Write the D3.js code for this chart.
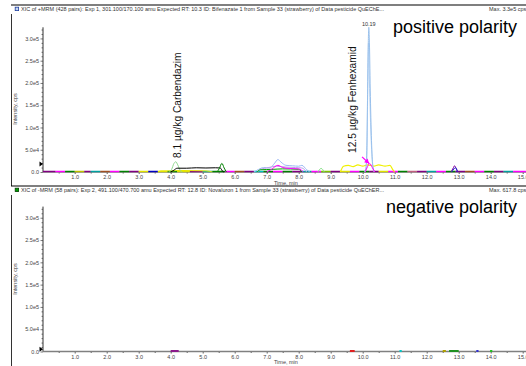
<!DOCTYPE html>
<html><head><meta charset="utf-8">
<script src="https://cdn.jsdelivr.net/npm/d3@7"></script>
<style>
html,body{margin:0;padding:0;background:#fff;}
svg{display:block;font-family:"Liberation Sans",Arial,sans-serif;}
</style></head>
<body><svg id="c" width="526" height="366"></svg>
<script>
// ---------- data ----------
const headerTop = "XIC of +MRM (428 pairs): Exp 1, 301.100/170.100 amu Expected RT: 10.3 ID: Bifenazate 1 from Sample 33 (strawberry) of Data pesticide QuEChE...";
const headerBot = "XIC of -MRM (58 pairs): Exp 2, 491.100/470.700 amu Expected RT: 12.8 ID: Novaluron 1 from Sample 33 (strawberry) of Data pesticide QuEChER...";
const maxTop = "Max. 3.3e5 cps";
const maxBot = "Max. 617.8 cps";
const panelLabels = ["positive polarity", "negative polarity"];
const xTicks = [1,2,3,4,5,6,7,8,9,10,11,12,13,14,15];
const xTickLabels = ["1.0","2.0","3.0","4.0","5.0","6.0","7.0","8.0","9.0","10.0","11.0","12.0","13.0","14.0","15.0"];
const xMinor = [0.5,1.5,2.5,3.5,4.5,5.5,6.5,7.5,8.5,9.5,10.5,11.5,12.5,13.5,14.5];
const yTicks = [0,50000,100000,150000,200000,250000,300000];
const yTickLabels = ["0.0","5.0e4","1.0e5","1.5e5","2.0e5","2.5e5","3.0e5"];
const yMinor = [10000,20000,30000,40000,60000,70000,80000,90000,110000,120000,130000,140000,160000,170000,180000,190000,210000,220000,230000,240000,260000,270000,280000,290000,310000,320000];
const xTitle = "Time, min";
const yTitle = "Intensity, cps";

// positive polarity peaks: [time (min), intensity (cps)]
const fenhexamidA = [[10.04,0],[10.1,8000],[10.13,60000],[10.15,160000],[10.17,270000],[10.19,325000],[10.21,290000],[10.24,170000],[10.28,60000],[10.32,12000],[10.37,0]];
const fenhexamidB = [[10.08,0],[10.13,30000],[10.16,200000],[10.18,290000],[10.2,230000],[10.26,80000],[10.33,5000],[10.36,0]];
const carbendazim = [[3.95,0],[4.03,6000],[4.1,19000],[4.16,23000],[4.22,16000],[4.3,3000],[4.36,0]];
const blackTrace = [[4.0,0],[4.1,4000],[4.2,8500],[4.5,8500],[4.8,9500],[5.1,9000],[5.4,9500],[5.55,9000],[5.62,2000],[5.66,0]];
const greenPeak = [[5.45,0],[5.52,8000],[5.6,19500],[5.67,9000],[5.74,0]];
const yellowA = [[3.6,0],[3.7,2500],[4.0,2500],[4.3,3500],[4.7,3000],[5.1,2500],[5.3,0]];
const lightBlue78 = [[6.6,0],[6.75,6000],[6.9,10000],[7.1,9000],[7.25,20000],[7.35,28000],[7.45,22000],[7.6,15000],[7.8,14000],[8.0,13000],[8.1,15000],[8.25,5000],[8.35,0]];
const lavender78 = [[6.7,0],[6.85,7000],[7.0,9000],[7.3,13000],[7.6,11000],[7.9,10000],[8.1,9000],[8.25,0]];
const magenta78 = [[7.0,0],[7.15,6000],[7.35,15000],[7.5,10000],[7.7,8000],[8.0,7000],[8.15,0]];
const green78 = [[6.7,0],[6.8,5000],[7.2,6000],[7.5,7000],[8.0,6000],[8.1,0]];
const lightGreen87 = [[8.6,0],[8.7,8000],[8.8,0]];
const yellowB = [[9.3,0],[9.4,13000],[9.55,15000],[9.7,12000],[9.85,16000],[10.0,13000],[10.15,16000],[10.35,13000],[10.5,16000],[10.7,13000],[10.85,15000],[10.95,4000],[11.0,0]];
const magenta10 = [[10.08,0],[10.15,12000],[10.22,19000],[10.3,10000],[10.38,0]];
const purple129 = [[12.76,0],[12.83,9000],[12.87,14000],[12.92,8000],[12.98,0]];
const blue129 = [[12.78,0],[12.85,7000],[12.9,10000],[12.96,0]];
const topTraces = [
  {pts: yellowA, color:"#e8e800", w:1},
  {pts: lightBlue78, color:"#9cb8f4", w:1},
  {pts: lavender78, color:"#c0a0e8", w:1},
  {pts: green78, color:"#00a000", w:1},
  {pts: magenta78, color:"#ff00ff", w:1},
  {pts: lightGreen87, color:"#80e080", w:1},
  {pts: carbendazim, color:"#90d890", w:1},
  {pts: blackTrace, color:"#000000", w:1},
  {pts: greenPeak, color:"#008000", w:1},
  {pts: yellowB, color:"#f0f000", w:1.2},
  {pts: fenhexamidB, color:"#b8d4f4", w:1},
  {pts: fenhexamidA, color:"#98c0ec", w:1},
  {pts: magenta10, color:"#ff00ff", w:1},
  {pts: purple129, color:"#8000a0", w:1},
  {pts: blue129, color:"#2020d0", w:1}
];
// baseline colour segments [t0, t1, colour]
const baseTop = [
[0.0,0.4,"#800080"],[0.4,0.7,"#ff00ff"],[0.7,1.0,"#008000"],[1.0,1.3,"#c0c000"],[1.3,1.5,"#800080"],
[1.5,1.8,"#00a0a0"],[1.8,2.1,"#a05020"],[2.1,2.4,"#ff00ff"],[2.4,2.7,"#008000"],[2.7,3.0,"#800080"],
[3.0,3.3,"#e0e000"],[3.3,3.6,"#0000c0"],[3.6,3.9,"#e0e000"],[3.9,4.2,"#008000"],[4.2,4.6,"#e0e000"],
[4.6,5.0,"#800080"],[5.0,5.3,"#00a0a0"],[5.3,5.7,"#008000"],[5.7,6.0,"#ff00ff"],[6.0,6.3,"#a05020"],
[6.3,6.6,"#800080"],[6.6,6.9,"#00c0c0"],[6.9,7.2,"#008000"],[7.2,7.5,"#ff00ff"],[7.5,7.8,"#008000"],
[7.8,8.1,"#800080"],[8.1,8.4,"#00a0a0"],[8.4,8.7,"#ff00ff"],[8.7,9.0,"#80c000"],[9.0,9.3,"#800080"],
[9.3,9.6,"#e0e000"],[9.6,9.9,"#ff00ff"],[9.9,10.2,"#008000"],[10.2,10.5,"#800080"],[10.5,10.8,"#e0e000"],
[10.8,11.1,"#ff00ff"],[11.1,11.4,"#008000"],[11.4,11.7,"#c06080"],[11.7,12.0,"#800080"],[12.0,12.3,"#00a0a0"],
[12.3,12.6,"#ff00ff"],[12.6,12.9,"#008000"],[12.9,13.2,"#800080"],[13.2,13.5,"#a05020"],[13.5,13.8,"#ff00ff"],
[13.8,14.1,"#008000"],[14.1,14.4,"#800080"],[14.4,14.7,"#00a0a0"],[14.7,15.1,"#ff00ff"]
];
const baseBot = [
[4.0,4.25,"#8b1a8b"],[9.6,9.75,"#e02020"],[11.15,11.22,"#00c8c8"],[12.5,12.6,"#b0a000"],
[12.7,13.0,"#209020"],[13.55,13.62,"#3030d0"],[13.98,14.05,"#20c020"]
];
const annotations = [
  {text:"8.1 µg/kg Carbendazim", t:4.2, v:31400},
  {text:"12.5 µg/kg Fenhexamid", t:9.68, v:42700}
];
const apexLabel = {text:"10.19", t:10.19, v:325000};
const arrow = {t0:9.98, v0:34000, t1:10.2, v1:19000};
const thresholdMarks = [18000, 5000];

// ---------- drawing ----------
const svg = d3.select("#c");
const W = 526;
const x = d3.scaleLinear().domain([0, 15.1]).range([42.7, 42.7 + 32*15.1]);
const panels = [
  {y: d3.scaleLinear().domain([0, 325000]).range([172, 27.3]), headY:5, header:headerTop, max:maxTop, icon:"#2040a0", iconFill:"#c8d8f0", label:panelLabels[0], labelY:33, titleY:109},
  {y: d3.scaleLinear().domain([0, 325000]).range([351.5, 206.6]), headY:186, header:headerBot, max:maxBot, icon:"#004000", iconFill:"#00a000", label:panelLabels[1], labelY:213, titleY:279}
];
const fs = 5.5;

svg.append("defs").selectAll("clipPath").data(panels).join("clipPath")
  .attr("id",(d,i)=>"clip"+i)
  .append("rect").attr("x",43).attr("y",(d)=>d.y.range()[1]-8).attr("width",W-43).attr("height",(d)=>d.y.range()[0]-d.y.range()[1]+10);

panels.forEach((p,i)=>{
  const g = svg.append("g");
  // header separator
  g.append("line").attr("x1",11).attr("x2",W).attr("y1",p.headY).attr("y2",p.headY).attr("stroke","#000").attr("stroke-width",1.2);
  g.append("rect").attr("x",15.2).attr("y",p.headY+2.2).attr("width",3.4).attr("height",3.4).attr("fill",p.iconFill).attr("stroke",p.icon).attr("stroke-width",0.8);
  g.append("text").attr("x",21).attr("y",p.headY+6).attr("font-size",fs).attr("fill","#333")
    .attr("textLength",363).attr("lengthAdjust","spacingAndGlyphs").text(p.header);
  g.append("text").attr("x",489).attr("y",p.headY+6).attr("font-size",fs).attr("fill","#333").text(p.max);
  // left frame
  g.append("line").attr("x1",11.5).attr("x2",11.5).attr("y1",p.headY+9).attr("y2",i===0?186:366).attr("stroke","#333").attr("stroke-width",1);

  const y = p.y;
  // y axis
  const ya = g.append("g").attr("transform","translate(43,0)");
  ya.call(d3.axisLeft(y).tickValues(yTicks).tickFormat((d,k)=>yTickLabels[k]).tickSize(2.5).tickPadding(1.5));
  ya.append("g").call(d3.axisLeft(y).tickValues(yMinor).tickFormat("").tickSize(1.5));
  ya.selectAll("path.domain").remove();
  ya.selectAll("line").attr("stroke","#444").attr("stroke-width",0.7);
  ya.selectAll("text").attr("font-size",fs).attr("fill","#444").attr("font-family","Liberation Sans, Arial, sans-serif");
  ya.append("line").attr("x1",0).attr("x2",0).attr("y1",y.range()[1]).attr("y2",y.range()[0]).attr("stroke","#333").attr("stroke-width",1);
  g.append("text").attr("transform",`translate(16.5,${p.titleY}) rotate(-90)`).attr("text-anchor","middle")
    .attr("font-size",fs).attr("fill","#444").text(yTitle);

  // x axis
  const y0 = y(0);
  const xa = g.append("g").attr("transform",`translate(0,${y0})`);
  xa.call(d3.axisBottom(x).tickValues(xTicks).tickFormat((d,k)=>xTickLabels[k]).tickSize(2).tickPadding(1.5));
  xa.append("g").call(d3.axisBottom(x).tickValues(xMinor).tickFormat("").tickSize(1.5));
  xa.selectAll("path.domain").remove();
  xa.selectAll("line").attr("stroke","#333").attr("stroke-width",0.8);
  xa.selectAll("text").attr("font-size",fs).attr("fill","#444").attr("font-family","Liberation Sans, Arial, sans-serif");
  g.append("line").attr("x1",43).attr("x2",W).attr("y1",y0).attr("y2",y0).attr("stroke","#808080").attr("stroke-width",1.6);
  g.append("text").attr("x",x(7.6)).attr("y",y0+12.5).attr("text-anchor","middle").attr("font-size",fs).attr("fill","#444").text(xTitle);

  const plot = g.append("g").attr("clip-path",`url(#clip${i})`);
  // baseline segments
  plot.selectAll("line.base").data(i===0?baseTop:baseBot).join("line").attr("class","base")
    .attr("x1",d=>x(d[0])).attr("x2",d=>x(d[1])).attr("y1",y0-0.5).attr("y2",y0-0.5)
    .attr("stroke",d=>d[2]).attr("stroke-width",i===0?1.6:1.8);
  if(i===0){
    const line = d3.line().x(d=>x(d[0])).y(d=>y(d[1])).curve(d3.curveMonotoneX);
    plot.selectAll("path.tr").data(topTraces).join("path").attr("class","tr")
      .attr("d",d=>line(d.pts)).attr("fill","none").attr("stroke",d=>d.color).attr("stroke-width",d=>d.w);
  }
  // threshold marker
  const ty = y(thresholdMarks[i]);
  g.append("path").attr("d",`M39.5,${ty-2.5}L43,${ty}L39.5,${ty+2.5}Z`).attr("fill","#000");
  // panel label
  g.append("text").attr("x",517).attr("y",p.labelY).attr("text-anchor","end").attr("font-size",18).attr("fill","#000").text(p.label);
});

// annotations (top panel)
const yT = panels[0].y;
annotations.forEach(a=>{
  svg.append("text").attr("transform",`translate(${x(a.t)+3.5},${yT(a.v)}) rotate(-90)`)
    .attr("font-size",10.2).attr("fill","#111").text(a.text);
});
svg.append("text").attr("x",x(apexLabel.t)).attr("y",yT(apexLabel.v)-1.5).attr("text-anchor","middle")
  .attr("font-size",5.5).attr("fill","#333").text(apexLabel.text);
// arrow
const ax0=x(arrow.t0), ay0=yT(arrow.v0), ax1=x(arrow.t1), ay1=yT(arrow.v1);
svg.append("line").attr("x1",ax0).attr("y1",ay0).attr("x2",ax1).attr("y2",ay1).attr("stroke","#ff00ff").attr("stroke-width",1.2);
const ang = Math.atan2(ay1-ay0, ax1-ax0);
const hl=4.5, hw=2.6;
const bx=ax1-hl*Math.cos(ang), by=ay1-hl*Math.sin(ang);
svg.append("path").attr("d",`M${ax1},${ay1}L${bx-hw*Math.sin(ang)},${by+hw*Math.cos(ang)}L${bx+hw*Math.sin(ang)},${by-hw*Math.cos(ang)}Z`).attr("fill","#ff00ff");
</script></body></html>
